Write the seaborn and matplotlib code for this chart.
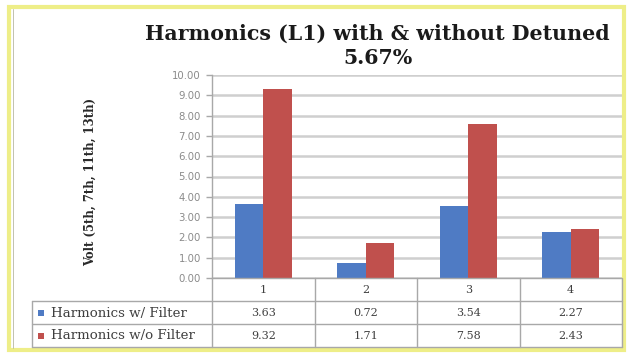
import matplotlib
matplotlib.use("Agg")
import matplotlib.pyplot as plt
import matplotlib.transforms as mtransforms
from matplotlib.lines import Line2D
from matplotlib.patches import Rectangle
import seaborn as sns
import pandas as pd

# ---- data ----
categories = ["1", "2", "3", "4"]
series_names = ["Harmonics w/ Filter", "Harmonics w/o Filter"]
with_filter = [3.63, 0.72, 3.54, 2.27]
without_filter = [9.32, 1.71, 7.58, 2.43]
y_ticks = [0, 1, 2, 3, 4, 5, 6, 7, 8, 9, 10]
title_lines = ["Harmonics (L1) with & without Detuned", "5.67%"]
y_label = "Volt (5th, 7th, 11th, 13th)"

colors = ["#4f7bc4", "#c0504d"]

df = pd.DataFrame({
    "Harmonic": categories * 2,
    "Volt": with_filter + without_filter,
    "Series": [series_names[0]] * 4 + [series_names[1]] * 4,
})

sns.set_theme(style="white")
plt.rcParams["font.family"] = ["DejaVu Sans"]

W, H = 628, 356
fig = plt.figure(figsize=(W / 100, H / 100), dpi=100)
fig.patch.set_facecolor("white")


def fx(px):
    return px / W


def fy(py):
    return 1 - py / H


# plot area
ax = fig.add_axes([fx(212), fy(278), fx(622) - fx(212), fy(75) - fy(278)])
sns.barplot(data=df, x="Harmonic", y="Volt", hue="Series", order=categories,
            hue_order=series_names, palette=colors, width=0.56, saturation=1,
            linewidth=0, legend=False, ax=ax)

ax.set_xlim(-0.5, len(categories) - 0.5)
ax.set_ylim(0, 10)
ax.set_yticks(y_ticks)
ax.set_yticklabels([f"{v:.2f}" for v in y_ticks])
ax.set_xticks([])
ax.set_xlabel("")
ax.set_ylabel("")
ax.yaxis.grid(True, color="#cfcfcf", linewidth=1.8)
ax.set_axisbelow(True)
for s in ["top", "right"]:
    ax.spines[s].set_visible(False)
ax.spines["left"].set_color("#a8a8a8")
ax.spines["left"].set_linewidth(1.0)
ax.spines["bottom"].set_color("#a8a8a8")
ax.spines["bottom"].set_linewidth(1.0)
ax.tick_params(axis="y", left=True, length=4, width=1.0, color="#a8a8a8",
               labelsize=7.3, labelcolor="#8a8a8a", pad=4)
ax.set_facecolor("white")

# titles
title_font = dict(ha="center", va="center", family="DejaVu Serif",
                  fontweight="bold", fontsize=14.8, color="#1a1a1a")
fig.text(fx(377), fy(34), title_lines[0], **title_font)
fig.text(fx(378), fy(58), title_lines[1], **title_font)
fig.text(fx(90), fy(182), y_label, ha="center", va="center", rotation=90,
         family="DejaVu Serif", fontweight="bold", fontsize=8.4, color="#2a2a2a")

# data table under the plot
grid_col = "#a8a8a8"
blend = mtransforms.blended_transform_factory(ax.transData, fig.transFigure)
row_top, row_1, row_2, row_bottom = 278, 301, 324, 347

for yy in [row_1, row_2, row_bottom]:
    fig.add_artist(Line2D([fx(32), fx(622)], [fy(yy), fy(yy)], color=grid_col,
                          lw=1.0, transform=fig.transFigure))
fig.add_artist(Line2D([fx(32), fx(32)], [fy(row_1), fy(row_bottom)],
                      color=grid_col, lw=1.0, transform=fig.transFigure))
for k in range(len(categories) + 1):
    xb = k - 0.5
    fig.add_artist(Line2D([xb, xb], [fy(row_top), fy(row_bottom)], color=grid_col,
                          lw=1.0, transform=blend))

cell_font = dict(family="DejaVu Serif", fontsize=8, color="#404040",
                 ha="center", va="center")
for i, cat in enumerate(categories):
    fig.text(i, fy(290), cat, transform=blend, **cell_font)
    fig.text(i, fy(313), f"{with_filter[i]:.2f}", transform=blend, **cell_font)
    fig.text(i, fy(336), f"{without_filter[i]:.2f}", transform=blend, **cell_font)

for yy, name, c in [(313, series_names[0], colors[0]),
                    (336, series_names[1], colors[1])]:
    fig.add_artist(Rectangle((fx(38), fy(yy + 3)), fx(6), fy(yy - 3) - fy(yy + 3),
                             facecolor=c, edgecolor="none",
                             transform=fig.transFigure))
    fig.text(fx(51), fy(yy), name, ha="left", va="center",
             family="DejaVu Serif", fontsize=9.6, color="#404040")

# outer frame
fig.add_artist(Rectangle((fx(9), fy(350)), fx(624) - fx(9), fy(7) - fy(350),
                         fill=False, edgecolor="#eeee88", linewidth=3.0,
                         transform=fig.transFigure))
fig.add_artist(Line2D([fx(12.5), fx(12.5)], [fy(9), fy(348)], color="#b8b8a0",
                      lw=0.6, transform=fig.transFigure))

fig.savefig("out.png", dpi=100, facecolor="white")
